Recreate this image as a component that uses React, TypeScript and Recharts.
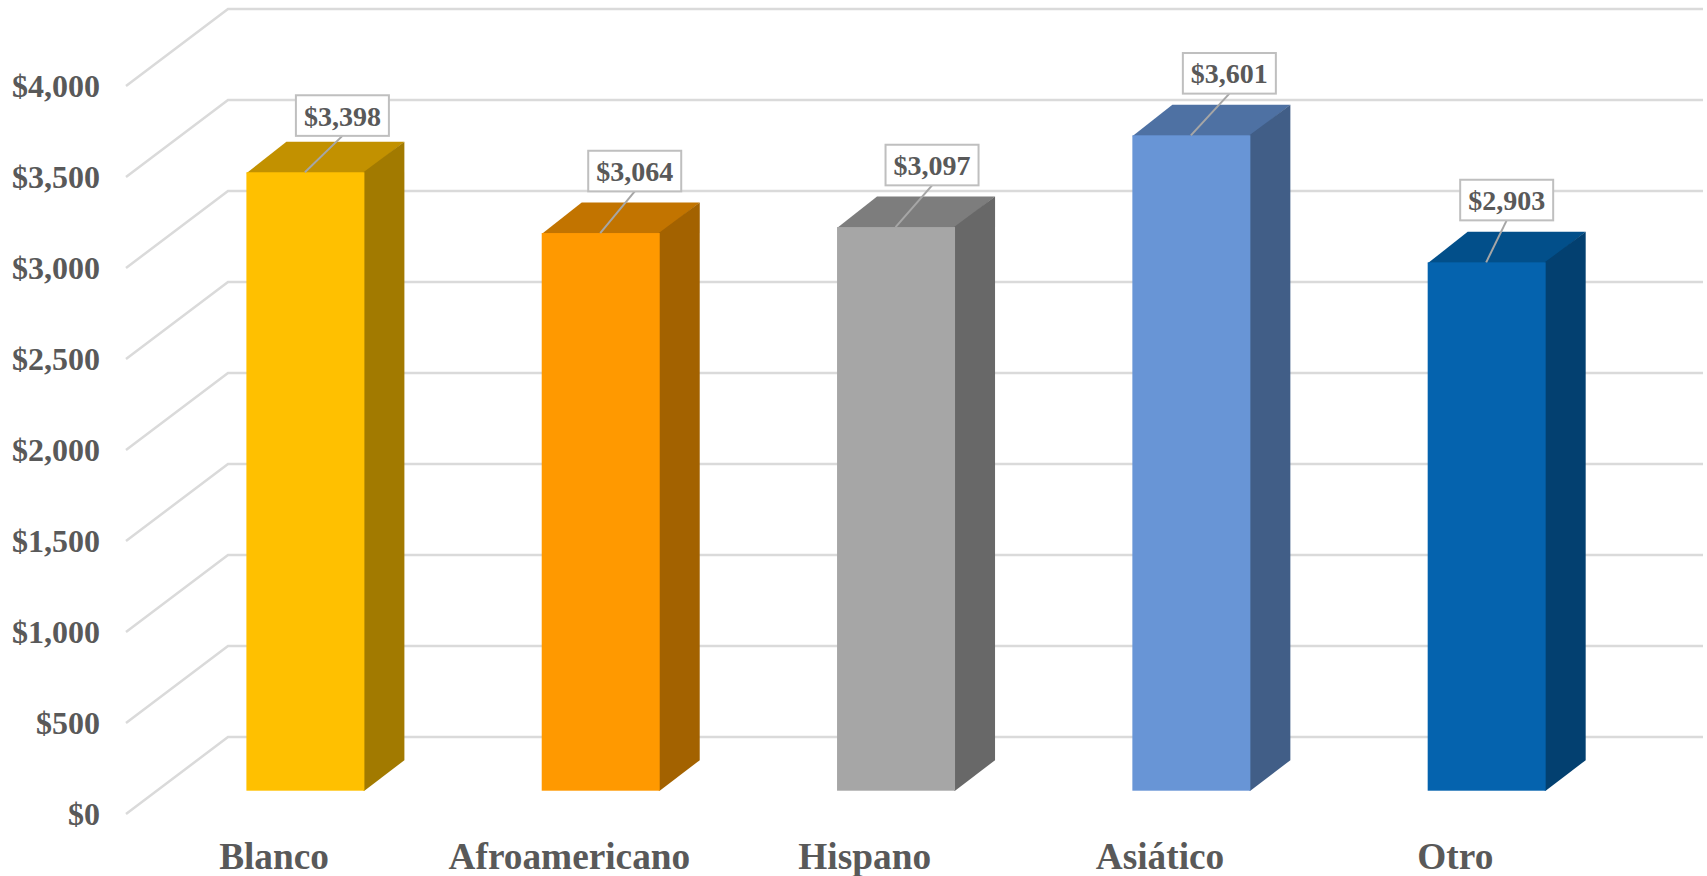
import React from 'react';
import { BarChart, Bar, XAxis, YAxis, CartesianGrid, LabelList } from 'recharts';

const categories = ['Blanco', 'Afroamericano', 'Hispano', 'Asiático', 'Otro'];
const ingresos = [3398, 3064, 3097, 3601, 2903];
const yTicks = [0, 500, 1000, 1500, 2000, 2500, 3000, 3500, 4000];

const data = categories.map((name, i) => ({ name, value: ingresos[i] }));

// front / top / side colours of each column
const frontColors = ['#FFC000', '#FF9900', '#A6A6A6', '#6895D6', '#0563AE'];
const topColors = ['#C29100', '#C27400', '#7D7D7D', '#4E71A3', '#024F8A'];
const sideColors = ['#A27A00', '#A36200', '#686868', '#415E87', '#034070'];

// hand placed callouts: box centre relative to the top centre of the column
const calloutDx = [37, 34, 36, 38, 20];
const calloutDy = [-56.7, -62, -62, -62, -62.3];

const FONT = '"Liberation Serif", "Times New Roman", serif';
const TEXT = '#595959';
const DEPTH_X = 40;
const DEPTH_Y = 30.5;

const money = (v: number) => `$${v.toLocaleString('en-US')}`;

// grid line with its diagonal part running along the floor/side of the 3D box
const GridLine = (props: any) => {
    const y = props.y1;
    const points = `126,${y + 23.3} 228,${y - 53.7} 1703,${y - 53.7}`;
    return <polyline key={props.key ?? y} points={points} fill="none" stroke="#DADADA" strokeWidth={2.5} />;
};

const Column3D = (props: any) => {
    const { x, y, width, height, index } = props;
    const r = x + width;
    const b = y + height;
    return (
        <g>
            <polygon
                points={`${x},${y + 1} ${x + DEPTH_X},${y - DEPTH_Y} ${r + DEPTH_X},${y - DEPTH_Y} ${r},${y + 1}`}
                fill={topColors[index]}
            />
            <polygon
                points={`${r - 1},${y} ${r + DEPTH_X},${y - DEPTH_Y} ${r + DEPTH_X},${b - DEPTH_Y} ${r},${b} ${r - 1},${b}`}
                fill={sideColors[index]}
            />
            <rect x={x} y={y} width={width} height={height} fill={frontColors[index]} />
        </g>
    );
};

const Callout = (props: any) => {
    const { x, y, width, value, index } = props;
    const cx = x + width / 2;
    const bx = cx + calloutDx[index];
    const by = y + calloutDy[index];
    return (
        <g>
            <line x1={bx} y1={by + 20.3} x2={cx - 0.5} y2={y} stroke="#A6A6A6" strokeWidth={2} />
            <rect x={bx - 46.5} y={by - 20.3} width={93} height={40.6} fill="#FFFFFF" stroke="#BFBFBF" strokeWidth={2} />
            <text x={bx} y={by + 10} textAnchor="middle" fontFamily={FONT} fontWeight="bold" fontSize={28} fill={TEXT}>
                {money(value)}
            </text>
        </g>
    );
};

const YTick = ({ y, payload }: any) => (
    <text x={100} y={y + 23.3 + 10.5} textAnchor="end" fontFamily={FONT} fontWeight="bold" fontSize={32} fill={TEXT}>
        {money(payload.value)}
    </text>
);

const XTick = ({ x, payload }: any) => (
    <text x={x - 31} y={869} textAnchor="middle" fontFamily={FONT} fontWeight="bold" fontSize={37.3} fill={TEXT}>
        {payload.value}
    </text>
);

export default function App() {
    return (
        <div style={{ position: 'absolute', left: 0, top: 0, width: 1707, height: 876, background: '#FFFFFF' }}>
            <BarChart
                width={1707}
                height={876}
                data={data}
                margin={{ top: 62.7, right: 73, bottom: 0, left: 0 }}
            >
                <CartesianGrid vertical={false} horizontal={GridLine} />
                <XAxis dataKey="name" height={85.3} axisLine={false} tickLine={false} tick={XTick} interval={0} />
                <YAxis
                    width={157.4}
                    domain={[0, 4000]}
                    ticks={yTicks}
                    interval={0}
                    axisLine={false}
                    tickLine={false}
                    tick={YTick}
                />
                <Bar dataKey="value" barSize={118} shape={Column3D} isAnimationActive={false}>
                    <LabelList dataKey="value" content={Callout} />
                </Bar>
            </BarChart>
        </div>
    );
}
